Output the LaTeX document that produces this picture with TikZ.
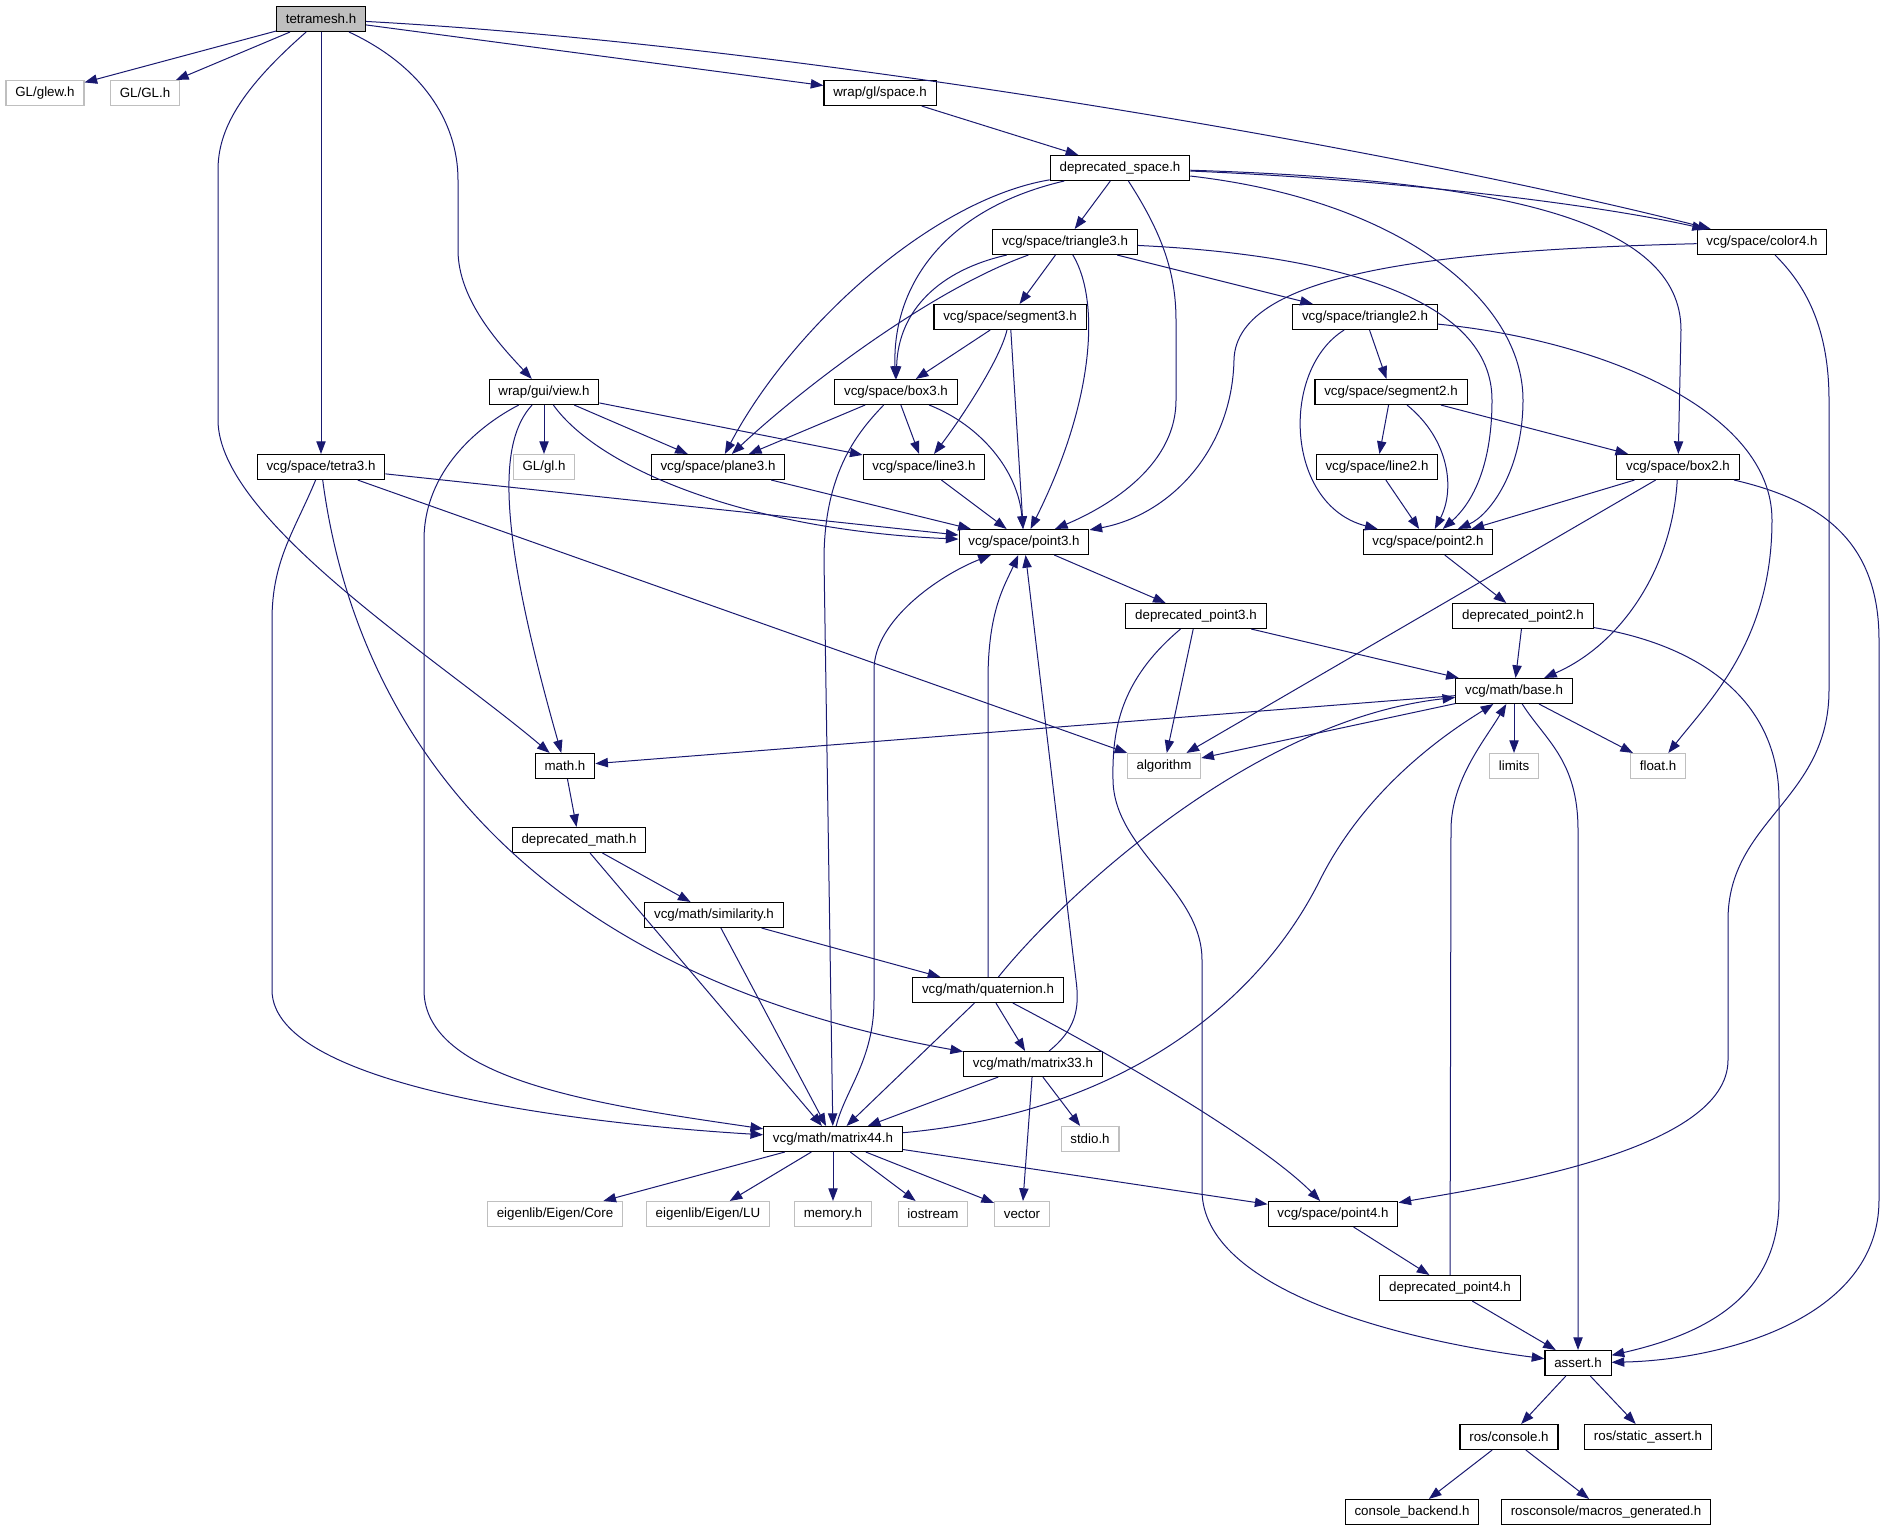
\documentclass[tikz,border=0pt]{standalone}
\usepackage{fontspec}
\setmainfont{Liberation Sans}
\usetikzlibrary{arrows.meta}
\definecolor{edgeblue}{HTML}{191970}
\definecolor{boxgray}{HTML}{BFBFBF}

\begin{document}
\begin{tikzpicture}[x=0.75pt,y=-0.75pt] % граф включений, 1 ед. = 1 px
\tikzstyle{hfile} = [rectangle, draw=black, line width=0.8pt, minimum height=18.75pt, inner xsep=7pt, inner ysep=0pt] % header node style
\tikzstyle{sysfile} = [hfile, draw=boxgray] % системный заголовок
\tikzstyle{rootfile} = [hfile, fill=boxgray] % корень графа
\tikzstyle{dep} = [draw=edgeblue, line width=0.75pt, -{Triangle[length=9.5pt,width=7pt]}] % include edge style

\useasboundingbox (0,0) rectangle (1885,1531);

% узлы, по рядам сверху вниз
\node[rootfile] (tm) at (321,19) {tetramesh.h};
\node[sysfile] (glew) at (45,93) {GL/glew.h};
\node[sysfile] (GL) at (145,93) {GL/GL.h};
\node[hfile] (wspace) at (880,93) {wrap/gl/space.h};
\node[hfile] (dspace) at (1120,168) {deprecated\_space.h};
\node[hfile] (tri3) at (1065,242) {vcg/space/triangle3.h};
\node[hfile] (color4) at (1762,242) {vcg/space/color4.h};
\node[hfile] (seg3) at (1010,317) {vcg/space/segment3.h};
\node[hfile] (tri2) at (1365,317) {vcg/space/triangle2.h};
\node[hfile] (view) at (544,392) {wrap/gui/view.h};
\node[hfile] (box3) at (896,392) {vcg/space/box3.h};
\node[hfile] (seg2) at (1391,392) {vcg/space/segment2.h};
\node[hfile] (tetra3) at (321,467) {vcg/space/tetra3.h};
\node[sysfile] (gl) at (544,467) {GL/gl.h};
\node[hfile] (plane3) at (718,467) {vcg/space/plane3.h};
\node[hfile] (line3) at (924,467) {vcg/space/line3.h};
\node[hfile] (line2) at (1377,467) {vcg/space/line2.h};
\node[hfile] (box2) at (1678,467) {vcg/space/box2.h};
\node[hfile] (pt3) at (1024,542) {vcg/space/point3.h};
\node[hfile] (pt2) at (1428,542) {vcg/space/point2.h};
\node[hfile] (dpt3) at (1196,616) {deprecated\_point3.h};
\node[hfile] (dpt2) at (1523,616) {deprecated\_point2.h};
\node[hfile] (base) at (1514,691) {vcg/math/base.h};
\node[hfile] (mathh) at (565,766) {math.h};
\node[sysfile] (algo) at (1164,766) {algorithm};
\node[sysfile] (limits) at (1514,766) {limits};
\node[sysfile] (floath) at (1658,766) {float.h};
\node[hfile] (dmath) at (579,840) {deprecated\_math.h};
\node[hfile] (simil) at (714,915) {vcg/math/similarity.h};
\node[hfile] (quat) at (988,990) {vcg/math/quaternion.h};
\node[hfile] (m33) at (1033,1064) {vcg/math/matrix33.h};
\node[hfile] (m44) at (833,1139) {vcg/math/matrix44.h};
\node[sysfile] (stdio) at (1090,1139) {stdio.h};
\node[sysfile] (core) at (555,1214) {eigenlib/Eigen/Core};
\node[sysfile] (lu) at (708,1214) {eigenlib/Eigen/LU};
\node[sysfile] (memory) at (833,1214) {memory.h};
\node[sysfile] (iostream) at (933,1214) {iostream};
\node[sysfile] (vector) at (1022,1214) {vector};
\node[hfile] (pt4) at (1333,1214) {vcg/space/point4.h};
\node[hfile] (dpt4) at (1450,1288) {deprecated\_point4.h};
\node[hfile] (assert) at (1578,1363) {assert.h};
\node[hfile] (console) at (1509,1437) {ros/console.h};
\node[hfile] (sassert) at (1648,1437) {ros/static\_assert.h};
\node[hfile] (backend) at (1412,1512) {console\_backend.h};
\node[hfile] (macros) at (1606,1512) {rosconsole/macros\_generated.h};

% прямые рёбра
\draw[dep] (tm) -- (glew);
\draw[dep] (tm) -- (GL);
\draw[dep] (tm) -- (tetra3);
\draw[dep] (tm) -- (wspace);
\draw[dep] (wspace) -- (dspace);
\draw[dep] (dspace) -- (tri3);
\draw[dep] (tri3) -- (seg3);
\draw[dep] (tri3) -- (tri2);
\draw[dep] (seg3) -- (box3);
\draw[dep] (seg3) -- (pt3);
\draw[dep] (tri2) -- (seg2);
\draw[dep] (view) -- (gl);
\draw[dep] (view) -- (plane3);
\draw[dep] (view) -- (line3);
\draw[dep] (box3) -- (plane3);
\draw[dep] (box3) -- (line3);
\draw[dep] (seg2) -- (line2);
\draw[dep] (seg2) -- (box2);
\draw[dep] (tetra3) -- (pt3);
\draw[dep] (tetra3) -- (algo);
\draw[dep] (plane3) -- (pt3);
\draw[dep] (line3) -- (pt3);
\draw[dep] (line2) -- (pt2);
\draw[dep] (box2) -- (pt2);
\draw[dep] (box2) -- (algo);
\draw[dep] (pt3) -- (dpt3);
\draw[dep] (pt2) -- (dpt2);
\draw[dep] (dpt3) -- (algo);
\draw[dep] (dpt3) -- (base);
\draw[dep] (dpt2) -- (base);
\draw[dep] (base) -- (mathh);
\draw[dep] (base) -- (algo);
\draw[dep] (base) -- (limits);
\draw[dep] (base) -- (floath);
\draw[dep] (mathh) -- (dmath);
\draw[dep] (dmath) -- (simil);
\draw[dep] (dmath) -- (m44);
\draw[dep] (simil) -- (quat);
\draw[dep] (simil) -- (m44);
\draw[dep] (quat) -- (m33);
\draw[dep] (quat) -- (m44);
\draw[dep] (m33) -- (m44);
\draw[dep] (m33) -- (stdio);
\draw[dep] (m33) -- (vector);
\draw[dep] (m44) -- (core);
\draw[dep] (m44) -- (lu);
\draw[dep] (m44) -- (memory);
\draw[dep] (m44) -- (iostream);
\draw[dep] (m44) -- (vector);
\draw[dep] (m44) -- (pt4);
\draw[dep] (pt4) -- (dpt4);
\draw[dep] (dpt4) -- (assert);
\draw[dep] (assert) -- (console);
\draw[dep] (assert) -- (sassert);
\draw[dep] (console) -- (backend);
\draw[dep] (console) -- (macros);

% кривые рёбра
\draw[dep] (tm) .. controls (240,90) and (218,130) .. (218,170) -- (218,420) .. controls (218,520) and (440,660) .. (mathh);
\draw[dep] (tm) .. controls (420,65) and (458,120) .. (458,180) -- (458,250) .. controls (458,300) and (500,345) .. (view);
\draw[dep] (tm) .. controls (800,45) and (1400,150) .. (color4);
\draw[dep] (dspace) .. controls (930,200) and (790,330) .. (plane3);
\draw[dep] (dspace) .. controls (940,210) and (892,290) .. (box3);
\draw[dep] (dspace) .. controls (1160,230) and (1176,270) .. (1176,320) -- (1176,400) .. controls (1176,470) and (1100,510) .. (pt3);
\draw[dep] (dspace) .. controls (1400,180) and (1600,205) .. (color4);
\draw[dep] (dspace) .. controls (1500,180) and (1681,220) .. (1681,330) -- (box2);
\draw[dep] (dspace) .. controls (1400,200) and (1523,300) .. (1523,400) .. controls (1523,470) and (1490,515) .. (pt2);
\draw[dep] (tri3) .. controls (940,270) and (898,310) .. (box3);
\draw[dep] (tri3) .. controls (930,290) and (800,390) .. (plane3);
\draw[dep] (tri3) .. controls (1100,300) and (1095,400) .. (pt3);
\draw[dep] (tri3) .. controls (1340,255) and (1492,300) .. (1492,400) .. controls (1492,470) and (1470,505) .. (pt2);
\draw[dep] (color4) .. controls (1450,250) and (1236,270) .. (1234,360) .. controls (1232,450) and (1170,515) .. (pt3);
\draw[dep] (color4) .. controls (1800,280) and (1829,320) .. (1829,400) -- (1829,690) .. controls (1829,800) and (1728,820) .. (1728,920) -- (1728,1060) .. controls (1728,1150) and (1500,1185) .. (pt4);
\draw[dep] (seg3) .. controls (1000,360) and (960,420) .. (line3);
\draw[dep] (tri2) .. controls (1280,370) and (1285,505) .. (pt2);
\draw[dep] (tri2) .. controls (1600,340) and (1772,410) .. (1772,520) .. controls (1772,640) and (1710,700) .. (floath);
\draw[dep] (view) .. controls (500,440) and (495,520) .. (mathh);
\draw[dep] (view) .. controls (600,470) and (750,530) .. (pt3);
\draw[dep] (view) .. controls (480,425) and (424,470) .. (424,540) -- (424,990) .. controls (424,1080) and (600,1105) .. (m44);
\draw[dep] (box3) .. controls (980,425) and (1018,470) .. (pt3);
\draw[dep] (box3) .. controls (860,430) and (824,470) .. (824,560) -- (m44);
\draw[dep] (seg2) .. controls (1450,440) and (1455,490) .. (pt2);
\draw[dep] (tetra3) .. controls (295,530) and (272,560) .. (272,620) -- (272,990) .. controls (272,1090) and (600,1125) .. (m44);
\draw[dep] (tetra3) .. controls (345,650) and (450,960) .. (m33);
\draw[dep] (box2) .. controls (1672,570) and (1620,645) .. (base);
\draw[dep] (box2) .. controls (1820,500) and (1879,540) .. (1879,640) -- (1879,1200) .. controls (1879,1320) and (1720,1360) .. (assert);
\draw[dep] (dpt3) .. controls (1120,680) and (1112,730) .. (1113,780) .. controls (1114,850) and (1202,890) .. (1202,960) -- (1202,1190) .. controls (1202,1290) and (1400,1340) .. (assert);
\draw[dep] (dpt2) .. controls (1700,645) and (1779,700) .. (1779,800) -- (1779,1200) .. controls (1779,1300) and (1700,1335) .. (assert);
\draw[dep] (base) .. controls (1545,740) and (1578,760) .. (1578,830) -- (assert);
\draw[dep] (quat) -- (988,680) .. controls (988,610) and (1005,585) .. (pt3);
\draw[dep] (quat) .. controls (1060,900) and (1250,720) .. (base);
\draw[dep] (quat) .. controls (1150,1075) and (1270,1150) .. (pt4);
\draw[dep] (m33) .. controls (1075,1030) and (1080,1010) .. (1076,980) -- (pt3);
\draw[dep] (m44) .. controls (845,1090) and (874,1060) .. (874,1000) -- (874,670) .. controls (874,620) and (940,575) .. (pt3);
\draw[dep] (m44) .. controls (1100,1115) and (1250,1020) .. (1320,880) .. controls (1370,780) and (1460,725) .. (base);
\draw[dep] (dpt4) -- (1451,830) .. controls (1451,780) and (1485,740) .. (base);
\end{tikzpicture}
\end{document}
